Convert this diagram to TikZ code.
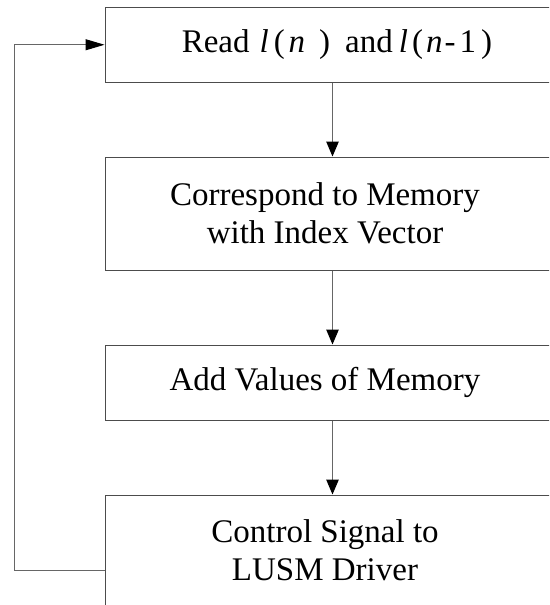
\documentclass[tikz,border=0pt]{standalone}
\usepackage{fontspec}
\setmainfont{Liberation Serif}
\usetikzlibrary{arrows.meta}
\tikzset{
  box/.style={draw=black!70, line width=1pt, rectangle, minimum width=455pt, inner sep=0pt},
  lbl/.style={inner sep=0pt, align=center, font=\fontsize{33}{38}\selectfont},
  arr/.style={draw=black!60, line width=1pt, -{Triangle[length=15pt,width=12.5pt,color=black]}},
  farr/.style={draw=black!60, line width=1pt, -{Triangle[length=19pt,width=11pt,color=black]}}
}
\begin{document}
\begin{tikzpicture}[x=1pt,y=-1pt]
\useasboundingbox (0,0) rectangle (549,605);
\clip (0,0) rectangle (549,605);
\node[box, minimum height=75.5pt] (b1) at (332.5,44.75) {};
\node[box, minimum height=113pt] (b2) at (332.5,213.5) {};
\node[box, minimum height=75pt] (b3) at (332.5,382.5) {};
\node[box, minimum height=111pt] (b4) at (332.5,550.5) {};
\node[lbl] (t1) at (336.9,44.75) {Read\hspace{10pt}\textit{l}\hspace{5pt}(\hspace{4pt}\textit{n}\hspace{14pt})\hspace{15pt}and\hspace{6pt}\textit{l}\hspace{4pt}(\hspace{3pt}\textit{n}\hspace{2pt}-\hspace{4pt}1\hspace{5pt})};
\node[lbl] (t2) at (325,213.5) {Correspond to Memory\\with Index Vector};
\node[lbl] (t3) at (325,382.5) {Add Values of Memory};
\node[lbl] (t4) at (325,550.5) {Control Signal to\\LUSM Driver};
\draw[arr] (b1) -- (b2);
\draw[arr] (b2) -- (b3);
\draw[arr] (b3) -- (b4);
\coordinate (fb) at (105,570);
\draw[farr] (fb) -- ++(-91,0) |- (b1.west);
\end{tikzpicture}
\end{document}
